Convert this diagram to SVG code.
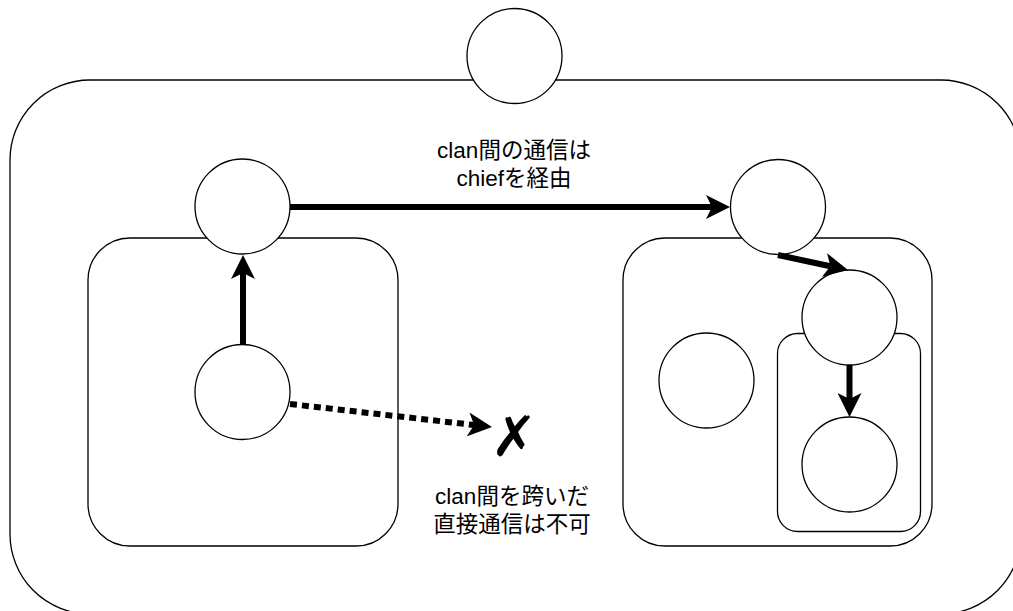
<svg xmlns="http://www.w3.org/2000/svg" width="1013" height="611" viewBox="0 0 1013 611">
  <style>
    .box { fill: #ffffff; stroke: #000000; stroke-width: 1.3; }
    .node { fill: #ffffff; stroke: #000000; stroke-width: 1.3; }
    .edge { fill: none; stroke: #000000; stroke-width: 6; marker-end: url(#arrow); }
    .dotted { stroke-dasharray: 7 5; }
    .label { font-family: "Liberation Sans", "Noto Sans CJK JP", sans-serif; font-size: 22.5px; fill: #000000; text-anchor: middle; }
    .mark { font-family: "DejaVu Sans", sans-serif; font-size: 56px; fill: #000000; text-anchor: middle; }
  </style>
  <defs>
    <!-- classic notched arrowhead, 24px long; the path end sits at the notch -->
    <marker id="arrow" markerUnits="userSpaceOnUse" viewBox="0 0 24 24" markerWidth="24" markerHeight="24" refX="6" refY="12" orient="auto">
      <path d="M0 0 L24 12 L0 24 L6 12 Z" fill="#000000"/>
    </marker>
  </defs>

  <rect fill="#ffffff" x="0" y="0" width="1013" height="611"/>

  <!-- containers -->
  <g id="cluster">
    <rect class="box" x="10" y="80" width="1011" height="534" rx="80" ry="80"/>
  </g>
  <g id="clan-left">
    <rect class="box" x="88" y="238" width="310" height="308" rx="42" ry="42"/>
  </g>
  <g id="clan-right">
    <rect class="box" x="623" y="238" width="309" height="308" rx="42" ry="42"/>
  </g>
  <g id="sub-clan">
    <rect class="box" x="777.5" y="333.5" width="143" height="198" rx="20" ry="20"/>
  </g>

  <!-- nodes -->
  <g id="top-node">
    <circle class="node" cx="514.5" cy="56" r="47.5"/>
  </g>
  <g id="chief-left">
    <circle class="node" cx="242.5" cy="206.5" r="47.5"/>
  </g>
  <g id="member-left">
    <circle class="node" cx="242.5" cy="392" r="47.5"/>
  </g>
  <g id="chief-right">
    <circle class="node" cx="778" cy="207" r="47.5"/>
  </g>
  <g id="member-right">
    <circle class="node" cx="706.5" cy="380.5" r="47.5"/>
  </g>
  <g id="subchief">
    <circle class="node" cx="849.5" cy="317.5" r="47.5"/>
  </g>
  <g id="sub-member">
    <circle class="node" cx="849.5" cy="464.5" r="47.5"/>
  </g>

  <!-- connectors -->
  <g id="connectors">
    <path class="edge" d="M243 345 L243 273"/>
    <path class="edge" d="M290 207 L712 207"/>
    <path class="edge" d="M778 255 L830.4 266.2"/>
    <path class="edge" d="M849.5 365 L849.5 399"/>
    <path class="edge dotted" d="M290 404 L474.1 425"/>
  </g>

  <!-- labels -->
  <g id="labels">
    <text class="label" x="514" y="157.5">clan間の通信は</text>
    <text class="label" x="514" y="186">chiefを経由</text>
    <text class="mark" x="514" y="456">✗</text>
    <text class="label" x="512" y="504">clan間を跨いだ</text>
    <text class="label" x="512" y="532">直接通信は不可</text>
  </g>
</svg>
